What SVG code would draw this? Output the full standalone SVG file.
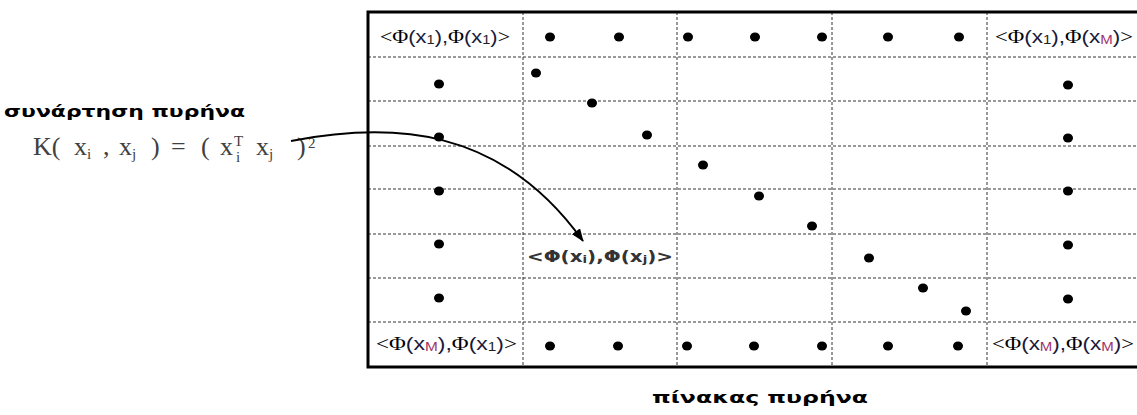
<svg xmlns="http://www.w3.org/2000/svg" width="1137" height="415" viewBox="0 0 1137 415">
<style>
.grid{stroke:#333;stroke-width:1;stroke-dasharray:3 2;fill:none}
.outer{stroke:#000;stroke-width:3;fill:none}
.dot{fill:#000}
.cell{font-family:"Liberation Sans",Arial,sans-serif;font-size:18px;fill:#1a1a3a}
.sf{font-family:"Liberation Serif","Times New Roman",serif;fill:#000}
.sub{font-size:12px;fill:#222}
.subm{font-size:12px;fill:#a0306a}
.mid{font-family:"DejaVu Sans",Verdana,sans-serif;font-weight:bold;font-size:15px;fill:#333}
.gr{font-family:"DejaVu Sans",Verdana,sans-serif;font-weight:bold;font-size:15px;fill:#000}
.f{font-family:"Liberation Serif","Times New Roman",serif;font-size:26px;fill:#404040}
.fs{font-family:"Liberation Serif","Times New Roman",serif;font-size:15px;fill:#404040}
.conn{stroke:#000;stroke-width:2;fill:none}
</style>
<defs>
<marker id="arr" markerUnits="userSpaceOnUse" markerWidth="14" markerHeight="10" refX="12" refY="5" orient="auto">
<path d="M0,0 L13,5 L0,10 Z" fill="#000"/>
</marker>
</defs>
<rect width="1137" height="415" fill="#fff"/>

<g id="table">
<g id="grid-lines">
<line class="grid" x1="523" y1="12" x2="523" y2="367"/>
<line class="grid" x1="677" y1="12" x2="677" y2="367"/>
<line class="grid" x1="832" y1="12" x2="832" y2="367"/>
<line class="grid" x1="987" y1="12" x2="987" y2="367"/>
<line class="grid" x1="368" y1="57" x2="1137" y2="57"/>
<line class="grid" x1="368" y1="101" x2="1137" y2="101"/>
<line class="grid" x1="368" y1="146" x2="1137" y2="146"/>
<line class="grid" x1="368" y1="189" x2="1137" y2="189"/>
<line class="grid" x1="368" y1="234" x2="1137" y2="234"/>
<line class="grid" x1="368" y1="278" x2="1137" y2="278"/>
<line class="grid" x1="368" y1="322" x2="1137" y2="322"/>
</g>
<path class="outer" d="M1140,12 H368 V367 H1140"/>
</g>

<g id="cell-11">
<text class="cell" x="380" y="43" textLength="130" lengthAdjust="spacingAndGlyphs"><tspan class="sf">&lt;</tspan><tspan class="sf">Φ</tspan>(x<tspan class="sub" dy="1">1</tspan><tspan dy="-1">),</tspan><tspan class="sf">Φ</tspan>(x<tspan class="sub" dy="1">1</tspan><tspan dy="-1">)</tspan><tspan class="sf">&gt;</tspan></text>
</g>
<g id="cell-1M">
<text class="cell" x="995" y="43" textLength="138" lengthAdjust="spacingAndGlyphs"><tspan class="sf">&lt;</tspan><tspan class="sf">Φ</tspan>(x<tspan class="sub" dy="1">1</tspan><tspan dy="-1">),</tspan><tspan class="sf">Φ</tspan>(x<tspan class="subm" dy="1">M</tspan><tspan dy="-1">)</tspan><tspan class="sf">&gt;</tspan></text>
</g>
<g id="cell-M1">
<text class="cell" x="376" y="350" textLength="141" lengthAdjust="spacingAndGlyphs"><tspan class="sf">&lt;</tspan><tspan class="sf">Φ</tspan>(x<tspan class="subm" dy="1">M</tspan><tspan dy="-1">),</tspan><tspan class="sf">Φ</tspan>(x<tspan class="sub" dy="1">1</tspan><tspan dy="-1">)</tspan><tspan class="sf">&gt;</tspan></text>
</g>
<g id="cell-MM">
<text class="cell" x="992" y="350" textLength="142" lengthAdjust="spacingAndGlyphs"><tspan class="sf">&lt;</tspan><tspan class="sf">Φ</tspan>(x<tspan class="subm" dy="1">M</tspan><tspan dy="-1">),</tspan><tspan class="sf">Φ</tspan>(x<tspan class="subm" dy="1">M</tspan><tspan dy="-1">)</tspan><tspan class="sf">&gt;</tspan></text>
</g>
<g id="cell-ij">
<text class="mid" x="527" y="262" textLength="146" lengthAdjust="spacingAndGlyphs">&lt;Φ(x<tspan font-size="10" dy="1">i</tspan><tspan dy="-1">),Φ(x</tspan><tspan font-size="10" dy="1">j</tspan><tspan dy="-1">)&gt;</tspan></text>
</g>

<g id="dots">
<ellipse class="dot" cx="550" cy="37" rx="5" ry="4.5"/>
<ellipse class="dot" cx="619" cy="37" rx="5" ry="4.5"/>
<ellipse class="dot" cx="688" cy="37" rx="5" ry="4.5"/>
<ellipse class="dot" cx="755" cy="37" rx="5" ry="4.5"/>
<ellipse class="dot" cx="822" cy="37" rx="5" ry="4.5"/>
<ellipse class="dot" cx="888" cy="37" rx="5" ry="4.5"/>
<ellipse class="dot" cx="959" cy="37" rx="5" ry="4.5"/>

<ellipse class="dot" cx="439" cy="84" rx="5" ry="4.5"/>
<ellipse class="dot" cx="439" cy="137" rx="5" ry="4.5"/>
<ellipse class="dot" cx="439" cy="191" rx="5" ry="4.5"/>
<ellipse class="dot" cx="439" cy="244" rx="5" ry="4.5"/>
<ellipse class="dot" cx="439" cy="298" rx="5" ry="4.5"/>

<ellipse class="dot" cx="536" cy="73" rx="5" ry="4.5"/>
<ellipse class="dot" cx="592" cy="103" rx="5" ry="4.5"/>
<ellipse class="dot" cx="647" cy="135" rx="5" ry="4.5"/>
<ellipse class="dot" cx="703" cy="165" rx="5" ry="4.5"/>
<ellipse class="dot" cx="759" cy="196" rx="5" ry="4.5"/>
<ellipse class="dot" cx="812" cy="226" rx="5" ry="4.5"/>
<ellipse class="dot" cx="869" cy="258" rx="5" ry="4.5"/>
<ellipse class="dot" cx="923" cy="288" rx="5" ry="4.5"/>
<ellipse class="dot" cx="966" cy="311" rx="5" ry="4.5"/>

<ellipse class="dot" cx="1068" cy="85" rx="5" ry="4.5"/>
<ellipse class="dot" cx="1068" cy="138" rx="5" ry="4.5"/>
<ellipse class="dot" cx="1068" cy="191" rx="5" ry="4.5"/>
<ellipse class="dot" cx="1068" cy="245" rx="5" ry="4.5"/>
<ellipse class="dot" cx="1068" cy="299" rx="5" ry="4.5"/>

<ellipse class="dot" cx="550" cy="346" rx="5" ry="4.5"/>
<ellipse class="dot" cx="618" cy="346" rx="5" ry="4.5"/>
<ellipse class="dot" cx="687" cy="346" rx="5" ry="4.5"/>
<ellipse class="dot" cx="754" cy="346" rx="5" ry="4.5"/>
<ellipse class="dot" cx="822" cy="346" rx="5" ry="4.5"/>
<ellipse class="dot" cx="888" cy="346" rx="5" ry="4.5"/>
<ellipse class="dot" cx="958" cy="346" rx="5" ry="4.5"/>
</g>

<g id="kernel-function">
<text class="gr" x="4" y="117" textLength="241" lengthAdjust="spacingAndGlyphs">συνάρτηση πυρήνα</text>
<text class="f" x="33" y="155">K(</text>
<text class="f" x="74" y="155">x</text><text class="fs" x="87" y="159">i</text>
<text class="f" x="103" y="155">,</text>
<text class="f" x="119" y="155">x</text><text class="fs" x="132" y="159">j</text>
<text class="f" x="151" y="155">)</text>
<text class="f" x="171" y="155">=</text>
<text class="f" x="201" y="155">(</text>
<text class="f" x="220" y="155">x</text><text class="fs" x="234" y="146" font-size="11">T</text><text class="fs" x="236" y="162" font-size="14">i</text>
<text class="f" x="256" y="155">x</text><text class="fs" x="269" y="159">j</text>
<text class="f" x="297" y="155">)</text>
<text class="fs" x="308" y="148" font-size="17">2</text>
</g>

<g id="kernel-matrix-caption">
<text class="gr" x="652" y="403" textLength="216" lengthAdjust="spacingAndGlyphs">πίνακας πυρήνα</text>
</g>

<g id="connectors">
<path class="conn" d="M291,141 C390,122 500,125 583,241" marker-end="url(#arr)"/>
</g>
</svg>
